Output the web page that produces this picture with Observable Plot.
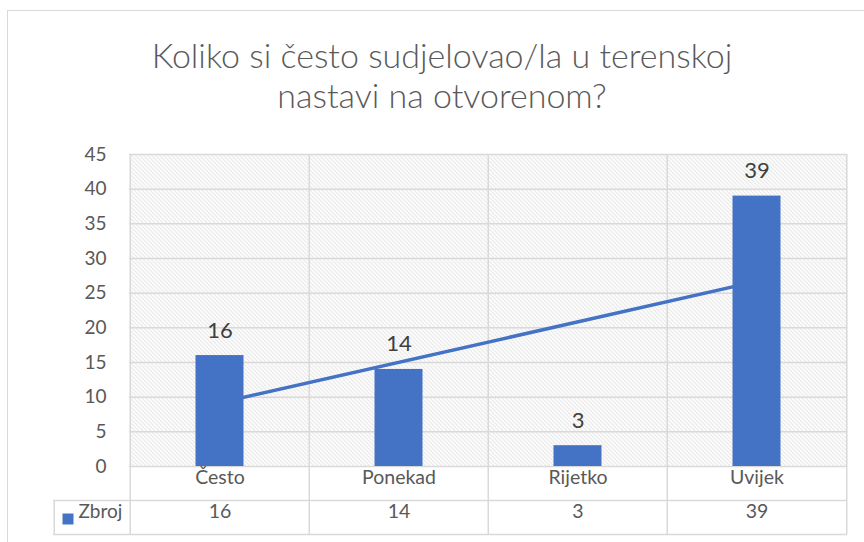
<!DOCTYPE html>
<html>
<head>
<meta charset="utf-8">
<script src="https://cdn.jsdelivr.net/npm/d3@7"></script>
<script src="https://cdn.jsdelivr.net/npm/@observablehq/plot@0.6"></script>
<style>
  body { margin: 0; background: #fff; }
  #wrap { position: relative; width: 864px; height: 542px; overflow: hidden; font-family: Lato, "Open Sans", sans-serif; }
  #plot { position: absolute; left: 0; top: 0; }
  #border { position: absolute; left: 7px; top: 10px; width: 900px; height: 600px; border: 1.5px solid #d9d9d9; box-sizing: border-box; pointer-events: none; }
  #title { position: absolute; left: 0; top: 35px; width: 884px; text-align: center; font-weight: 300; font-size: 34px; line-height: 40px; color: #595959; }
</style>
</head>
<body>
<div id="wrap">
  <div id="plot"></div>
  <div id="border"></div>
  <div id="title">Koliko si često sudjelovao/la u terenskoj<br>nastavi na otvorenom?</div>
</div>
<script>
// ---- data ----
const categories = ["Često", "Ponekad", "Rijetko", "Uvijek"];
const counts = [16, 14, 3, 39];
const yTicks = [0, 5, 10, 15, 20, 25, 30, 35, 40, 45];
const trendCategories = ["Često", "Uvijek"];
const trendValues = [9.2, 26.7];
const seriesName = "Zbroj";

// ---- layout ----
const W = 864, H = 542, ML = 129, MR = 17, MT = 154, MB = 76;
const bw = (W - ML - MR) / categories.length;
const rowH = 34;
const legendLeft = 53;
const gridColor = "#d9d9d9";
const barColor = "#4472C4";
const font = "Lato, 'Open Sans', sans-serif";

const data = categories.map((c, i) => ({cat: c, value: counts[i]}));
const trend = trendCategories.map((c, i) => ({cat: c, value: trendValues[i]}));

const defs = () => {
  const g = d3.create("svg:defs");
  const p = g.append("pattern").attr("id", "hatch").attr("patternUnits", "userSpaceOnUse")
    .attr("width", 4).attr("height", 4);
  p.append("rect").attr("width", 4).attr("height", 4).attr("fill", "#fff");
  p.append("path").attr("d", "M-1,-1L5,5M3,-1L5,1M-1,3L1,5")
    .attr("stroke", "#d6d6d6").attr("stroke-width", 1);
  return g.node();
};

const chart = Plot.plot({
  width: W, height: H,
  marginLeft: ML, marginRight: MR, marginTop: MT, marginBottom: MB,
  style: {fontFamily: font, fontSize: "19px", color: "#595959", background: "transparent", overflow: "visible"},
  x: {domain: categories, padding: 0, axis: null},
  y: {domain: [0, 45], ticks: yTicks, tickSize: 0, tickPadding: 23, label: null},
  marks: [
    defs,
    Plot.frame({fill: "url(#hatch)", stroke: null}),
    Plot.ruleY(yTicks, {stroke: gridColor, strokeWidth: 1.5}),
    // category separators, extended through the data table
    Plot.ruleX(categories, {x: d => d, dx: -bw / 2, insetBottom: -2 * rowH, stroke: gridColor, strokeWidth: 1.5}),
    Plot.ruleX(categories.slice(-1), {x: d => d, dx: bw / 2, insetBottom: -2 * rowH, stroke: gridColor, strokeWidth: 1.5}),
    // data table horizontal lines
    Plot.ruleY([0], {dy: rowH, insetLeft: legendLeft - ML, stroke: gridColor, strokeWidth: 1.5}),
    Plot.ruleY([0], {dy: 2 * rowH, insetLeft: legendLeft - ML, stroke: gridColor, strokeWidth: 1.5}),
    // legend cell left border
    Plot.ruleX(categories.slice(0, 1), {x: d => d, dx: -bw / 2 + legendLeft - ML, insetTop: (H - MT - MB) + rowH, insetBottom: -2 * rowH, stroke: gridColor, strokeWidth: 1.5}),
    // trendline (behind bars)
    Plot.line(trend, {x: "cat", y: "value", stroke: barColor, strokeWidth: 3.5}),
    // bars
    Plot.barY(data, {x: "cat", y: "value", fill: barColor, insetLeft: 65.5, insetRight: 65.5}),
    // data labels
    Plot.text(data, {x: "cat", y: "value", text: d => String(d.value), dy: -18, lineAnchor: "bottom", fontSize: 22, fontWeight: 400, fill: "#404040"}),
    // category row
    Plot.text(data, {x: "cat", text: "cat", frameAnchor: "bottom", dy: 17, fontSize: 19.5, fill: "#595959"}),
    // value row
    Plot.text(data, {x: "cat", text: d => String(d.value), frameAnchor: "bottom", dy: rowH + 17, fontSize: 19.5, fill: "#595959"}),
    // legend key
    Plot.dot([seriesName], {frameAnchor: "bottom-left", dx: 67.5 - ML, dy: rowH + 18.5, symbol: "square", r: 6.2, fill: barColor, stroke: null}),
    Plot.text([seriesName], {text: d => d, frameAnchor: "bottom-left", dx: 78 - ML, dy: rowH + 17, textAnchor: "start", fontSize: 19, fill: "#595959"})
  ]
});
document.getElementById("plot").appendChild(chart);
</script>
</body>
</html>
